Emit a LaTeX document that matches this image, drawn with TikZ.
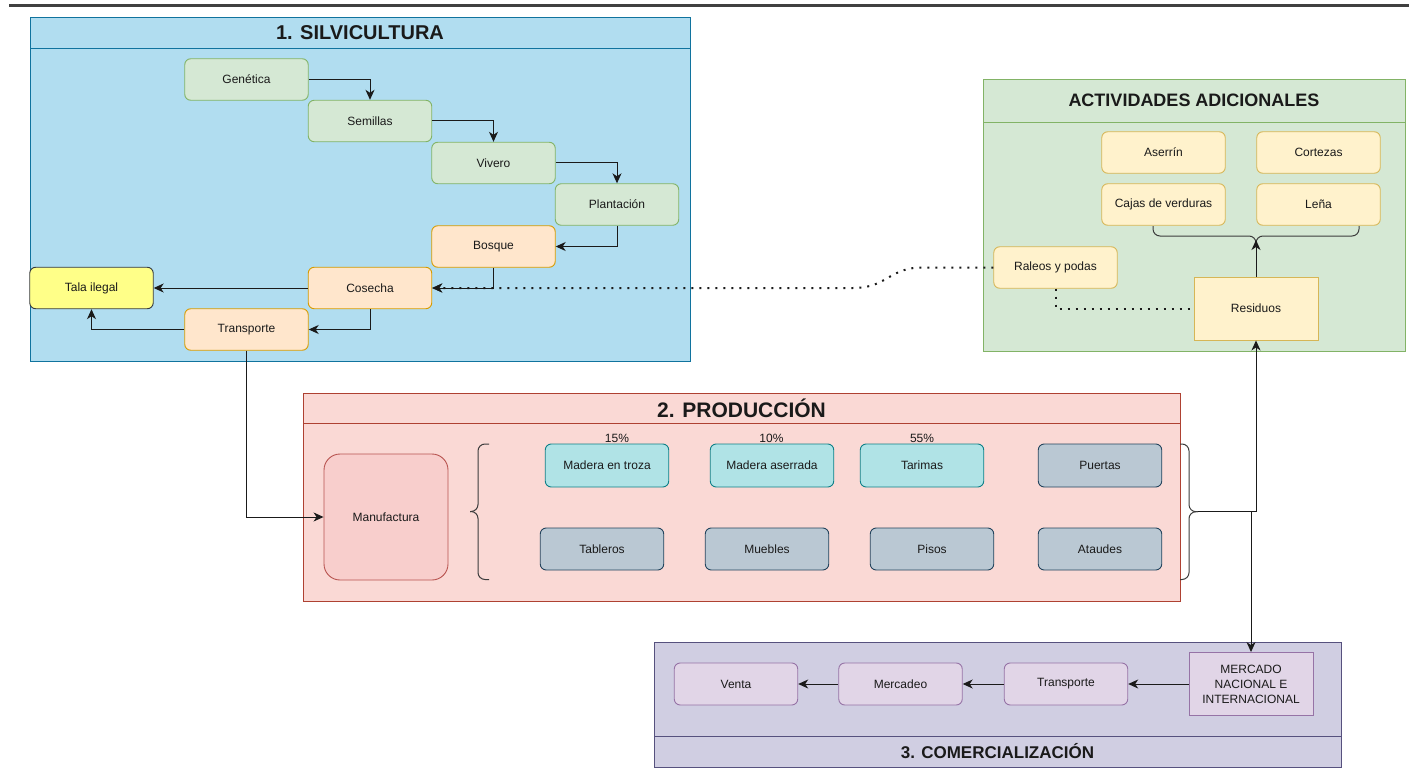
\documentclass[tikz,border=0pt]{standalone}
\usepackage{fontspec}
\setmainfont{Liberation Sans}
\usetikzlibrary{arrows.meta}
\definecolor{bluefill}{HTML}{B1DDF0}
\definecolor{bluestroke}{HTML}{10739E}
\definecolor{gfill}{HTML}{D5E8D4}
\definecolor{gstroke}{HTML}{82B366}
\definecolor{ofill}{HTML}{FFE6CC}
\definecolor{ostroke}{HTML}{D79B00}
\definecolor{yfill}{HTML}{FFFF88}
\definecolor{ystroke}{HTML}{36393D}
\definecolor{pyfill}{HTML}{FFF2CC}
\definecolor{pystroke}{HTML}{D6B656}
\definecolor{rfill}{HTML}{FAD9D5}
\definecolor{rstroke}{HTML}{AE4132}
\definecolor{mfill}{HTML}{F8CECC}
\definecolor{mstroke}{HTML}{B85450}
\definecolor{tfill}{HTML}{B0E3E6}
\definecolor{tstroke}{HTML}{0E8088}
\definecolor{sfill}{HTML}{BAC8D3}
\definecolor{sstroke}{HTML}{23445D}
\definecolor{vfill}{HTML}{D0CEE2}
\definecolor{vstroke}{HTML}{56517E}
\definecolor{lvfill}{HTML}{E1D5E7}
\definecolor{lvstroke}{HTML}{9673A6}
\definecolor{ink}{HTML}{1A1A1A}
\definecolor{topline}{HTML}{404040}
\tikzset{
  lbl/.style={font=\fontsize{12}{15}\selectfont, text=ink, align=center},
  basebox/.style={lbl, inner sep=0pt, line width=0.9pt, minimum width=123.5pt, minimum height=41.5pt},
  gbox/.style={basebox, draw=gstroke, fill=gfill, rounded corners=6pt},
  obox/.style={basebox, draw=ostroke, fill=ofill, rounded corners=6pt},
  ybox/.style={basebox, draw=ystroke, fill=yfill, rounded corners=6pt},
  pybox/.style={basebox, draw=pystroke, fill=pyfill, rounded corners=6pt},
  tbox/.style={basebox, draw=tstroke, fill=tfill, rounded corners=6pt, minimum height=43pt},
  sbox/.style={basebox, draw=sstroke, fill=sfill, rounded corners=6pt, minimum height=42pt},
  vbox/.style={basebox, draw=lvstroke, fill=lvfill, rounded corners=6pt, minimum height=42pt},
  cont/.style={line width=0.9pt},
  ttl/.style={font=\bfseries, text=ink, inner sep=0pt},
  tip/.style={-{Stealth[length=10pt,width=9pt,inset=3pt]}},
  arr/.style={draw=ink, line width=1pt, tip},
  dotl/.style={draw=ink, line width=2pt, dash pattern=on 2pt off 6pt},
  bracestyle/.style={draw=ink!85, line width=1pt},
  pct/.style={font=\fontsize{12}{14}\selectfont, text=ink, inner sep=0pt}
}
\begin{document}
\begin{tikzpicture}[x=1pt,y=-1pt]
\useasboundingbox (0,0) rectangle (1409,773);
\fill[white] (0,0) rectangle (1409,773);
% top rule
\draw[topline, line width=3.3pt] (9,5.7) -- (1409,5.7);

% ===== 1. SILVICULTURA =====
\draw[cont, draw=bluestroke, fill=bluefill] (30,17) rectangle (690,361);
\draw[cont, draw=bluestroke] (30,48) -- (690,48);
\node[ttl, font=\fontsize{20}{24}\bfseries\selectfont] (t1) at (360,32.5) {1. SILVICULTURA};

\node[gbox] (gen) at (246.5,79.5) {Genética};
\node[gbox] (sem) at (370,121) {Semillas};
\node[gbox] (viv) at (493.5,163) {Vivero};
\node[gbox] (pla) at (617,204.5) {Plantación};
\node[obox] (bos) at (493.5,246.5) {Bosque};
\node[obox] (cos) at (370,288) {Cosecha};
\node[obox] (tra) at (246.5,329.5) {Transporte};
\node[ybox] (tala) at (91.5,288) {Tala ilegal};

% ===== ACTIVIDADES ADICIONALES =====
\draw[cont, draw=gstroke, fill=gfill] (983,79) rectangle (1405,351);
\draw[cont, draw=gstroke] (983,122) -- (1405,122);
\node[ttl, font=\fontsize{18}{22}\bfseries\selectfont] (t4) at (1194,100.5) {ACTIVIDADES ADICIONALES};

\node[pybox] (ase) at (1163.5,152.5) {Aserrín};
\node[pybox] (cor) at (1318.5,152.5) {Cortezas};
\node[pybox] (caj) at (1163.5,204.5) {Cajas de verduras};
\node[pybox] (len) at (1318.5,204.5) {Leña};
\node[pybox] (ral) at (1055.5,267.5) {Raleos y podas};
\node[basebox, draw=pystroke, fill=pyfill, minimum width=124pt, minimum height=63pt] (res) at (1256,308.5) {Residuos};

% top brace (under Cajas / Leña)
\coordinate (btip) at (1256,240);
\draw[bracestyle, rounded corners=7pt] (1153,226) -- (1153,236) -- (1256,236) -- (btip);
\draw[bracestyle, rounded corners=7pt] (1359,226) -- (1359,236) -- (1256,236) -- (btip);

% ===== 2. PRODUCCION =====
\draw[cont, draw=rstroke, fill=rfill] (303,393) rectangle (1180,601);
\draw[cont, draw=rstroke] (303,423) -- (1180,423);
\node[ttl, font=\fontsize{21}{25}\bfseries\selectfont] (t2) at (741.5,408) {2. PRODUCCIÓN};

\node[basebox, draw=mstroke, fill=mfill, rounded corners=16pt, minimum width=124pt, minimum height=126pt] (man) at (386,517) {Manufactura};

\node[tbox] (mt) at (607,465.5) {Madera en troza};
\node[tbox] (ma) at (772,465.5) {Madera aserrada};
\node[tbox] (tar) at (922,465.5) {Tarimas};
\node[sbox, minimum height=43pt] (pue) at (1100,465.5) {Puertas};
\node[sbox] (tab) at (602,549) {Tableros};
\node[sbox] (mue) at (767,549) {Muebles};
\node[sbox] (pis) at (932,549) {Pisos};
\node[sbox] (ata) at (1100,549) {Ataudes};

\node[pct] (p15) at (617,438) {15\%};
\node[pct] (p10) at (771.5,438) {10\%};
\node[pct] (p55) at (922,438) {55\%};

% left brace
\coordinate (ltip) at (470,511.5);
\draw[bracestyle, rounded corners=7pt] (489,444) -- (478,444) -- (478,511.5) -- (ltip);
\draw[bracestyle, rounded corners=7pt] (489,579.5) -- (478,579.5) -- (478,511.5) -- (ltip);
% right brace
\coordinate (rtip) at (1198,511.7);
\draw[bracestyle, rounded corners=7pt] (1180,444) -- (1189,444) -- (1189,511.7) -- (rtip);
\draw[bracestyle, rounded corners=7pt] (1180,579.5) -- (1189,579.5) -- (1189,511.7) -- (rtip);

% ===== 3. COMERCIALIZACION =====
\draw[cont, draw=vstroke, fill=vfill] (654,642) rectangle (1341,767);
\draw[cont, draw=vstroke] (654,736) -- (1341,736);
\node[ttl, font=\fontsize{17}{21}\bfseries\selectfont] (t3) at (997.5,751.5) {3. COMERCIALIZACIÓN};

\node[vbox] (ven) at (736,684) {Venta};
\node[vbox] (mcd) at (900.5,684) {Mercadeo};
\node[vbox] (trc) at (1066,684) {Transporte};
\node[basebox, draw=lvstroke, fill=lvfill, minimum width=124pt, minimum height=63pt] (mer) at (1251,684) {MERCADO\\NACIONAL E\\INTERNACIONAL};

% ===== connectors =====
\draw[arr] (gen.east) -| (sem.north);
\draw[arr] (sem.east) -| (viv.north);
\draw[arr] (viv.east) -| (pla.north);
\draw[arr] (pla.south) |- (bos.east);
\draw[arr] (bos.south) |- (cos.east);
\draw[arr] (cos.west) -- (tala.east);
\draw[arr] (cos.south) |- (tra.east);
\draw[arr] (tra.west) -| (tala.south);
\draw[arr] (tra.south) |- (man.west);

\draw[dotl, tip] (ral.west) -- (923,267.5) .. controls (888,267.5) and (888,288) .. (853,288) -- (cos.east);
\draw[dotl] (ral.south) |- (res.west);
\draw[arr] (res.north) -- (btip);

\draw[arr] (rtip) -| (res.south);
\draw[arr] (rtip) -| (mer.north);

\draw[arr] (mer.west) -- (trc.east);
\draw[arr] (trc.west) -- (mcd.east);
\draw[arr] (mcd.west) -- (ven.east);
\end{tikzpicture}
\end{document}
